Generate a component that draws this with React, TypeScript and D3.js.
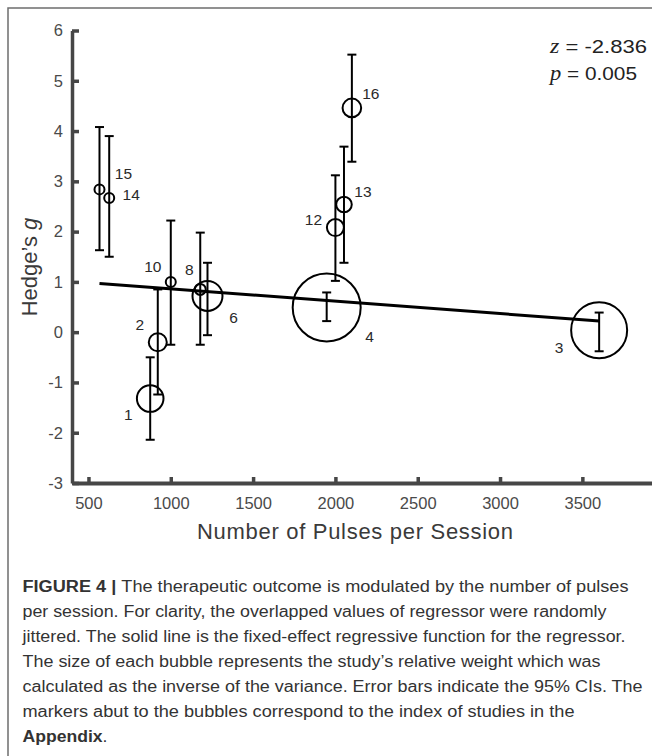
import { useRef, useEffect } from "react";
import * as d3 from "d3";

// Study index, pulses per session, Hedge's g, 95% CI, relative weight (%)
const studyIds = ["15", "14", "10", "8", "6", "2", "1", "12", "13", "16", "4", "3"];
const pulses = [567, 626, 1000, 1179, 1223, 921, 875, 2000, 2052, 2100, 1947, 3602];
const hedgesG = [2.84, 2.67, 1.0, 0.85, 0.72, -0.2, -1.32, 2.08, 2.54, 4.46, 0.49, 0.04];
const ciLow = [1.63, 1.5, -0.25, -0.25, -0.06, -1.24, -2.14, 1.02, 1.38, 3.39, 0.22, -0.38];
const ciHigh = [4.08, 3.9, 2.22, 1.98, 1.38, 0.85, -0.5, 3.12, 3.69, 5.52, 0.79, 0.39];
const relWeight = [0.91, 0.91, 0.91, 1.1, 8.19, 2.95, 6.44, 2.63, 2.21, 3.15, 42.07, 28.53];

// fixed-effect regression
const fitIntercept = 1.11;
const fitSlope = -0.000247;

const xTicks = [500, 1000, 1500, 2000, 2500, 3000, 3500];
const yTicks = [-3, -2, -1, 0, 1, 2, 3, 4, 5, 6];

const statLines = [["z", " = -2.836", 97], ["p", " = 0.005", 87]];

const captionLines = [
  { bold: "FIGURE 4 | ", text: "The therapeutic outcome is modulated by the number of pulses", w: 606 },
  { bold: "", text: "per session. For clarity, the overlapped values of regressor were randomly", w: 584 },
  { bold: "", text: "jittered. The solid line is the fixed-effect regressive function for the regressor.", w: 603 },
  { bold: "", text: "The size of each bubble represents the study\u2019s relative weight which was", w: 578 },
  { bold: "", text: "calculated as the inverse of the variance. Error bars indicate the 95% CIs. The", w: 620 },
  { bold: "", text: "markers abut to the bubbles correspond to the index of studies in the", w: 552 },
  { bold: "Appendix", text: ".", w: 85 },
];

// label offsets from bubble centre (px)
const labelOffsets: [number, number][] = [
  [24, -10], [22, 2], [-18, -10], [-11, -14], [26, 27], [-18, -12],
  [-22, 21], [-22, -3], [19, -7], [19, -9], [43, 34], [-40, 23],
];

export default function App() {
  const ref = useRef<SVGSVGElement>(null);

  const chartAttr = {
    width: 652,
    height: 756,
    left: 72,
    right: 651.5,
    top: 30.5,
    bottom: 483,
  };

  useEffect(() => {
    const svg = d3.select(ref.current);
    svg.selectAll("*").remove();
    const font = "'Liberation Sans', Arial, Helvetica, sans-serif";

    const x = d3.scaleLinear().domain([400, 3920]).range([chartAttr.left, chartAttr.right]);
    const y = d3.scaleLinear().domain([-3, 6]).range([chartAttr.bottom, chartAttr.top]);
    const r = d3.scaleSqrt().domain([0, 42.07]).range([0, 34]);

    // frame
    svg.append("path")
      .attr("d", `M8,756 L8,8 L652,8`)
      .attr("fill", "none")
      .attr("stroke", "#6e6e6e")
      .attr("stroke-width", 1.5);

    const axisColor = "#464646";
    const fmt = (d: any) => String(d);

    // axes
    const xAxis = d3.axisBottom(x).tickValues(xTicks).tickFormat(fmt).tickSizeInner(-6).tickSizeOuter(0).tickPadding(14);
    const yAxis = d3.axisLeft(y).tickValues(yTicks).tickFormat(fmt).tickSizeInner(-7).tickSizeOuter(0).tickPadding(9);

    const gx = svg.append("g")
      .attr("transform", `translate(0,${chartAttr.bottom})`)
      .call(xAxis);
    gx.select(".domain").style("stroke", axisColor).style("stroke-width", "4px");
    gx.selectAll(".tick line").style("stroke", axisColor).style("stroke-width", "3.5px");
    gx.selectAll(".tick text")
      .style("fill", "#4a4a4a")
      .style("font-family", font)
      .style("font-size", "16.5px")
      .attr("dy", "0.71em");

    const gy = svg.append("g")
      .attr("transform", `translate(${chartAttr.left},0)`)
      .call(yAxis);
    gy.select(".domain").style("stroke", axisColor).style("stroke-width", "3.5px");
    gy.selectAll(".tick line").style("stroke", axisColor).style("stroke-width", "3.5px");
    gy.selectAll(".tick text")
      .style("fill", "#4a4a4a")
      .style("font-family", font)
      .style("font-size", "16.5px");

    // axis titles
    svg.append("text")
      .attr("x", 355)
      .attr("y", 539)
      .attr("text-anchor", "middle")
      .attr("font-family", font)
      .attr("font-size", 22)
      .attr("fill", "#3a3a3a")
      .attr("textLength", 316)
      .text("Number of Pulses per Session");

    const yt = svg.append("text")
      .attr("transform", `translate(37,267) rotate(-90)`)
      .attr("text-anchor", "middle")
      .attr("font-family", font)
      .attr("font-size", 22)
      .attr("fill", "#3a3a3a");
    yt.append("tspan").text("Hedge\u2019s ");
    yt.append("tspan").attr("font-style", "italic").text("g");

    const idx = d3.range(studyIds.length);

    // regression line
    const xs = [d3.min(pulses) as number, d3.max(pulses) as number];
    svg.append("path")
      .attr("d", d3.line<number>()
        .x(d => x(d))
        .y(d => y(fitIntercept + fitSlope * d))(xs))
      .attr("stroke", "#000")
      .attr("stroke-width", 3)
      .attr("fill", "none");

    // error bars
    const cap = 4.5;
    const eb = svg.append("g").attr("stroke", "#000").attr("stroke-width", 2);
    idx.forEach(i => {
      const cx = x(pulses[i]);
      eb.append("line").attr("x1", cx).attr("x2", cx).attr("y1", y(ciLow[i])).attr("y2", y(ciHigh[i]));
      eb.append("line").attr("x1", cx - cap).attr("x2", cx + cap).attr("y1", y(ciLow[i])).attr("y2", y(ciLow[i]));
      eb.append("line").attr("x1", cx - cap).attr("x2", cx + cap).attr("y1", y(ciHigh[i])).attr("y2", y(ciHigh[i]));
    });

    // bubbles
    svg.append("g")
      .selectAll("circle")
      .data(idx)
      .enter()
      .append("circle")
      .attr("cx", i => x(pulses[i]))
      .attr("cy", i => y(hedgesG[i]))
      .attr("r", i => r(relWeight[i]))
      .attr("fill", "none")
      .attr("stroke", "#000")
      .attr("stroke-width", 2);

    // study labels
    svg.append("g")
      .selectAll("text")
      .data(idx)
      .enter()
      .append("text")
      .attr("x", i => x(pulses[i]) + labelOffsets[i][0])
      .attr("y", i => y(hedgesG[i]) + labelOffsets[i][1])
      .attr("text-anchor", "middle")
      .attr("font-family", font)
      .attr("font-size", 15.5)
      .attr("fill", "#2a2a2a")
      .text(i => studyIds[i]);

    // statistics
    statLines.forEach((s, k) => {
      const t = svg.append("text")
        .attr("x", 550)
        .attr("y", 53 + k * 27)
        .attr("font-family", font)
        .attr("font-size", 18.5)
        .attr("fill", "#222")
        .attr("textLength", s[2] as number)
        .attr("lengthAdjust", "spacingAndGlyphs");
      t.append("tspan")
        .attr("font-family", "'Liberation Serif', 'Times New Roman', serif")
        .attr("font-style", "italic")
        .attr("font-size", 20)
        .text(s[0] as string);
      t.append("tspan").text(s[1] as string);
    });

    // caption
    captionLines.forEach((c, k) => {
      const t = svg.append("text")
        .attr("x", 22.5)
        .attr("y", 591.5 + k * 25)
        .attr("font-family", font)
        .attr("font-size", 16)
        .attr("fill", "#333")
        .attr("textLength", c.w)
        .attr("lengthAdjust", "spacingAndGlyphs");
      if (c.bold) t.append("tspan").attr("font-weight", "bold").text(c.bold);
      t.append("tspan").text(c.text);
    });
  }, []);

  return (
    <div>
      <svg
        ref={ref}
        width={chartAttr.width}
        height={chartAttr.height}
        style={{ position: "absolute", left: 0, top: 0, background: "#fff" }}
      />
    </div>
  );
}
